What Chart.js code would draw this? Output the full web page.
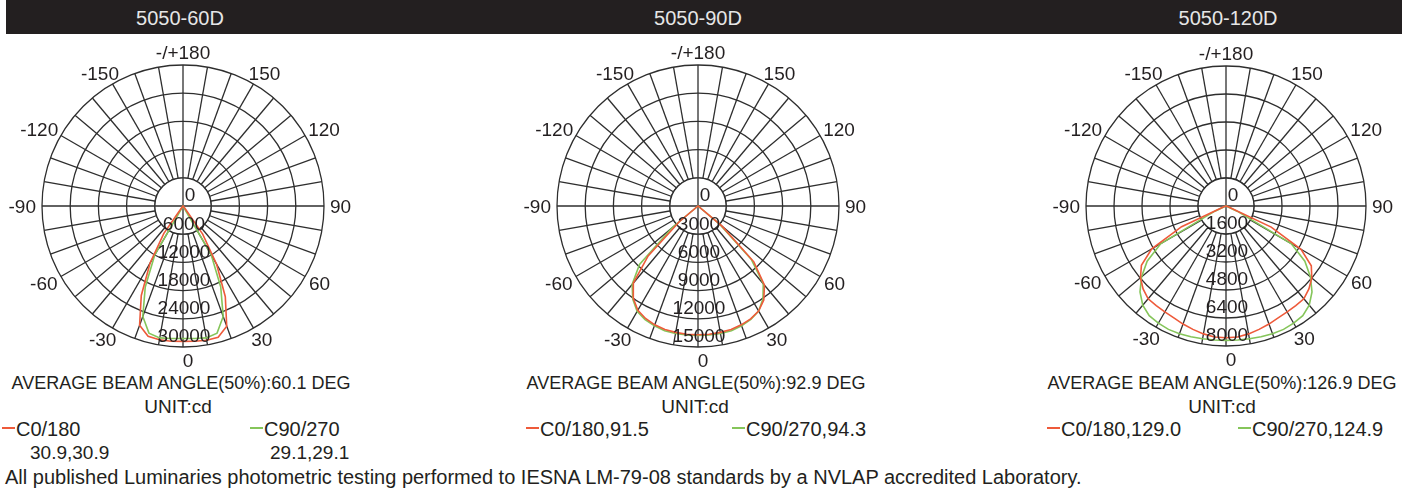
<!DOCTYPE html>
<html>
<head>
<meta charset="utf-8">
<script src="https://cdn.jsdelivr.net/npm/chart.js@4.4.1/dist/chart.umd.min.js"></script>
<style>
  body { margin: 0; width: 1418px; height: 494px; background: #fff; position: relative; overflow: hidden;
         font-family: "Liberation Sans", Arial, sans-serif; color: #231f20; }
  .bar { position: absolute; left: 6px; top: 0; width: 1396px; height: 34px; background: #231f20; }
  .title { position: absolute; top: 8px; font-size: 20px; line-height: 20px; color: #e6e6e6; transform: translateX(-50%); white-space: nowrap; }
  canvas { position: absolute; }
  .t { position: absolute; font-size: 18px; line-height: 20px; white-space: nowrap; }
  .u { font-size: 19px; }
  .lg { font-size: 20px; }
  .v { font-size: 19px; }
  .ft { font-size: 20px; }
  .c { transform: translateX(-50%); }
  .dash { position: absolute; height: 1.6px; width: 13px; top: 427px; }
</style>
</head>
<body>
<div class="bar"></div>
<div id="page"></div>

<script>
// ===== data =====
const panelTitles = ['5050-60D', '5050-90D', '5050-120D'];
const maxIntensity = [30000, 15000, 8000];
const beamText = ['AVERAGE BEAM ANGLE(50%):60.1 DEG', 'AVERAGE BEAM ANGLE(50%):92.9 DEG', 'AVERAGE BEAM ANGLE(50%):126.9 DEG'];

// gamma angle in degrees (0 = straight down, + = right half)
const gammaDeg = [-90, -85, -80, -75, -70, -65, -60, -55, -50, -45, -40, -35, -30, -25, -20, -15, -10, -5, 0,
                  5, 10, 15, 20, 25, 30, 35, 40, 45, 50, 55, 60, 65, 70, 75, 80, 85, 90];

// intensities in cd
const c0_60D   = [0, 0, 0, 0, 0, 0, 0, 0, 0, 0, 400, 7100, 14000, 21000, 27000, 28700, 28900, 28900, 28800,
                  28900, 29000, 28900, 27200, 21300, 14300, 7300, 500, 0, 0, 0, 0, 0, 0, 0, 0, 0, 0];
const c90_60D  = [0, 0, 0, 0, 0, 0, 0, 0, 0, 0, 0, 0, 12000, 19000, 25000, 28000, 28500, 28300, 28200,
                  28300, 28500, 28000, 25000, 19000, 12000, 0, 0, 0, 0, 0, 0, 0, 0, 0, 0, 0, 0];
const c0_90D   = [0, 0, 0, 0, 0, 0, 0, 0, 2600, 7500, 10700, 12000, 12800, 13200, 13450, 13600, 13650, 13700, 13700,
                  13700, 13650, 13600, 13450, 13250, 12900, 12200, 11000, 8400, 3300, 0, 0, 0, 0, 0, 0, 0, 0];
const c90_90D  = [0, 0, 0, 0, 0, 0, 0, 0, 3600, 8800, 10900, 12100, 12950, 13330, 13550, 13740, 13770, 13780, 13760,
                  13780, 13770, 13740, 13550, 13300, 12900, 12050, 10800, 8000, 3000, 0, 0, 0, 0, 0, 0, 0, 0];
const c0_120D  = [0, 0, 0, 0, 100, 2800, 4900, 5900, 6380, 6700, 6920, 6950, 6990, 7050, 7180, 7300, 7420, 7510, 7530,
                  7510, 7420, 7300, 7180, 7050, 6990, 6950, 6920, 6700, 6400, 5950, 4950, 2850, 100, 0, 0, 0, 0];
const c90_120D = [0, 0, 0, 0, 0, 700, 4300, 5500, 6300, 6950, 7400, 7650, 7730, 7780, 7770, 7740, 7700, 7690, 7680,
                  7690, 7700, 7740, 7770, 7780, 7730, 7650, 7400, 6950, 6300, 5500, 4300, 700, 0, 0, 0, 0, 0];

const seriesC0 = [c0_60D, c0_90D, c0_120D];
const seriesC90 = [c90_60D, c90_90D, c90_120D];
const legendC0 = ['C0/180', 'C0/180,91.5', 'C0/180,129.0'];
const legendC90 = ['C90/270', 'C90/270,94.3', 'C90/270,124.9'];

// angle labels every 30 deg, clockwise from the bottom
const angleLabelText = ['0', '-30', '-60', '-90', '-120', '-150', '-/+180', '150', '120', '90', '60', '30'];

// ===== layout / style =====
const centersX = [183, 698, 1226];
const centerY = 206;
const radius = [141, 141, 140];
const RED = '#ee5a3a';
const GREEN = '#85c55a';
const GRID = '#2e2e2e';
const TEXT = '#231f20';
const FONT = '"Liberation Sans", Arial, sans-serif';

// 72 spokes of 5 deg, index 0 at the bottom going clockwise (towards the negative side)
const spokeLabels = [];
for (let i = 0; i < 72; i++) {
    let g = -5 * i;
    if (g < -180) g += 360;
    spokeLabels.push(g);
}

function toSpokes(values) {
    return spokeLabels.map(g => {
        const k = gammaDeg.indexOf(g);
        return k >= 0 ? values[k] : 0;
    });
}

// ===== plugin: center hole + text =====
const polarText = {
    id: 'polarText',
    beforeDatasetsDraw(chart) {
        const s = chart.scales.r, ctx = chart.ctx;
        const r1 = s.getDistanceFromCenterForValue(s.ticks[1].value);
        ctx.save();
        ctx.fillStyle = '#fff';
        ctx.beginPath();
        ctx.arc(s.xCenter, s.yCenter, r1, 0, Math.PI * 2);
        ctx.fill();
        ctx.strokeStyle = GRID;
        ctx.lineWidth = 1.3;
        ctx.stroke();
        ctx.beginPath();
        [0, 18].forEach(i => {
            const a = s.getPointPosition(i, r1), b = s.getPointPosition(i + 36, r1);
            ctx.moveTo(a.x, a.y);
            ctx.lineTo(b.x, b.y);
        });
        ctx.stroke();
        ctx.restore();
    },
    afterDatasetsDraw(chart) {
        const s = chart.scales.r, ctx = chart.ctx;
        ctx.save();
        ctx.fillStyle = TEXT;
        ctx.textAlign = 'center';
        ctx.textBaseline = 'alphabetic';
        // intensity labels, down the 0 deg spoke
        ctx.font = '19px ' + FONT;
        s.ticks.forEach(t => {
            const d = s.getDistanceFromCenterForValue(t.value);
            ctx.fillText(String(t.value), s.xCenter + (t.value === 0 ? 7 : 1), s.yCenter + d - 11.5 + 6.8);
        });
        // angle labels: text box kept a small gap outside the rim
        ctx.font = '19px ' + FONT;
        const gap = 6;
        angleLabelText.forEach((txt, k) => {
            const i = k * 6;
            const a = s.getPointPosition(i, s.drawingArea + gap);
            const ux = (a.x - s.xCenter) / (s.drawingArea + gap);
            const uy = (a.y - s.yCenter) / (s.drawingArea + gap);
            const halfW = ctx.measureText(txt).width / 2;
            const cx = a.x + ux * halfW + (i === 0 ? 5 : 0);
            const cy = a.y + uy * 6.8;
            ctx.fillText(txt, cx, cy + 6.8);
        });
        ctx.restore();
    }
};

// ===== build page =====
const page = document.getElementById('page');

function addText(cls, html, left, top) {
    const d = document.createElement('div');
    d.className = cls;
    d.innerHTML = html;
    d.style.left = left + 'px';
    d.style.top = top + 'px';
    page.appendChild(d);
    return d;
}

function addDash(color, left) {
    const d = document.createElement('div');
    d.className = 'dash';
    d.style.left = left + 'px';
    d.style.background = color;
    page.appendChild(d);
}

const titleX = [180, 698, 1228];
const beamX = [181, 696, 1222];
const unitX = [178, 695, 1222];
const legendLeft = [[2, 250], [526, 732], [1047, 1238]];

panelTitles.forEach((name, p) => {
    addText('title', name, titleX[p], 8);
    addText('t c', beamText[p], beamX[p], 373);
    addText('t u c', 'UNIT:cd', unitX[p], 397);
    addDash(RED, legendLeft[p][0]);
    addText('t lg', legendC0[p], legendLeft[p][0] + 14, 419);
    addDash(GREEN, legendLeft[p][1]);
    addText('t lg', legendC90[p], legendLeft[p][1] + 14, 419);

    const R = radius[p];
    const padX = 180 - R, padY = 165 - R;
    const cv = document.createElement('canvas');
    cv.width = 360;
    cv.height = 330;
    cv.style.left = (centersX[p] - 180) + 'px';
    cv.style.top = (centerY - 165) + 'px';
    page.appendChild(cv);

    new Chart(cv.getContext('2d'), {
        type: 'radar',
        data: {
            labels: spokeLabels,
            datasets: [
                { label: legendC0[p], data: toSpokes(seriesC0[p]), borderColor: RED, borderWidth: 1.6,
                  pointRadius: 0, fill: false, tension: 0 },
                { label: legendC90[p], data: toSpokes(seriesC90[p]), borderColor: GREEN, borderWidth: 1.6,
                  pointRadius: 0, fill: false, tension: 0 }
            ]
        },
        options: {
            responsive: false,
            animation: false,
            layout: { padding: { left: padX, right: padX, top: padY, bottom: padY } },
            plugins: { legend: { display: false }, tooltip: { enabled: false } },
            scales: {
                r: {
                    startAngle: 180,
                    min: 0,
                    max: maxIntensity[p],
                    ticks: { display: false, stepSize: maxIntensity[p] / 5 },
                    grid: { circular: true, color: GRID, lineWidth: 1.3 },
                    angleLines: { color: ctx => (ctx.index % 2 === 0 ? GRID : null), lineWidth: 1.3 },
                    pointLabels: { display: false }
                }
            }
        },
        plugins: [polarText]
    });
});

// values under the first legend
addText('t v', '30.9,30.9', 30, 443);
addText('t v', '29.1,29.1', 270, 443);

addText('t ft', 'All published Luminaries photometric testing performed to IESNA LM-79-08 standards by a NVLAP accredited Laboratory.', 5, 467);
</script>
</body>
</html>
